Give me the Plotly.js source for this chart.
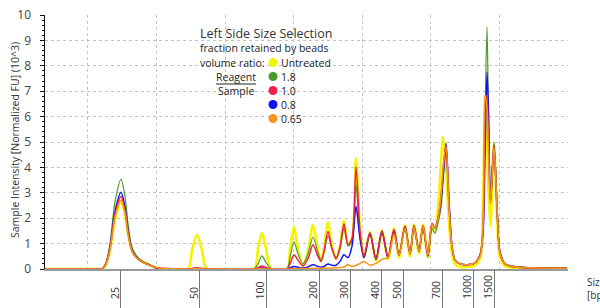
<!DOCTYPE html>
<html>
<head>
<meta charset="utf-8">
<script src="https://cdn.plot.ly/plotly-3.0.1.min.js"></script>
<style>html,body{margin:0;padding:0;background:#fff;}#chart{width:600px;height:308px;}</style>
</head>
<body>
<div id="chart"></div>
<script>
// Migration time (arbitrary run-time units) at which intensities were read
var runTime = [
  13.73, 21.02, 22.04, 22.62, 23.21, 23.94, 24.81, 25.40, 25.83, 26.42, 27.15, 28.02, 29.04, 30.06,
  34.58, 35.17, 35.90, 36.62, 37.35,
  44.21, 44.79, 45.37, 45.96, 46.69,
  49.02, 49.46, 50.04, 50.62, 51.35, 52.08, 52.81, 53.54, 53.98, 54.42, 55.00, 55.58, 56.17, 56.75, 57.33, 57.92, 58.50, 59.08, 59.67, 60.25,
  61.12, 62.00, 62.87, 63.75, 64.62, 65.35, 66.23, 66.96, 67.54, 68.27, 68.85, 69.58, 70.17, 70.60, 71.04, 71.48, 71.77, 72.21, 72.65, 73.08, 73.52, 74.25, 75.27, 76.29,
  77.17, 77.60, 77.90, 78.19, 78.41, 78.70, 79.21, 79.65, 80.08, 80.81, 81.83, 84.46, 89.85
];

// Sample intensity (10^3 normalized FU)
var untreated = [
  0, 0, 0, 0.18, 0.74, 1.96, 2.62, 2.15, 1.40, 0.72, 0.45, 0.28, 0.15, 0.03,
  0, 0.75, 1.35, 0.75, 0,
  0, 0.80, 1.42, 0.80, 0,
  0, 0.80, 1.65, 0.80, 0.12, 0.70, 1.74, 0.75, 0.30, 0.80, 1.85, 0.90, 0.40, 0.90, 1.92, 1.00, 1.20, 4.36, 1.60, 0.45,
  1.45, 0.32, 1.52, 0.38, 1.60, 0.45, 1.72, 0.50, 1.75, 0.60, 1.75, 0.45, 1.70, 1.50, 2.40, 4.20, 5.20, 4.00, 1.80, 0.60, 0.20, 0.08, 0.08, 0.12,
  0.40, 2.50, 6.80, 5.00, 3.00, 1.67, 4.95, 2.00, 0.45, 0.12, 0.05, 0.03, 0.02
];
var ratio18 = [
  0, 0, 0, 0.25, 1.00, 2.65, 3.53, 2.85, 1.80, 0.85, 0.50, 0.30, 0.17, 0.04,
  0, 0, 0.02, 0, 0,
  0, 0.20, 0.52, 0.25, 0.02,
  0, 0.45, 1.08, 0.60, 0.20, 0.60, 1.25, 0.65, 0.35, 0.65, 1.30, 0.80, 0.45, 0.80, 1.60, 0.90, 1.10, 3.31, 1.30, 0.50,
  1.35, 0.40, 1.42, 0.45, 1.50, 0.55, 1.60, 0.60, 1.62, 0.70, 1.60, 0.55, 1.60, 1.40, 1.80, 2.40, 3.40, 4.60, 2.60, 0.90, 0.35, 0.20, 0.17, 0.22,
  0.55, 1.60, 6.00, 9.52, 6.00, 3.00, 5.00, 2.60, 0.70, 0.22, 0.12, 0.06, 0.05
];
var ratio10 = [
  0, 0, 0, 0.20, 0.80, 2.15, 2.85, 2.30, 1.45, 0.70, 0.42, 0.26, 0.15, 0.05,
  0, 0.02, 0.05, 0.02, 0,
  0, 0.05, 0.12, 0.06, 0,
  0, 0.20, 0.56, 0.35, 0.12, 0.40, 0.95, 0.50, 0.30, 0.70, 1.48, 0.80, 0.40, 0.85, 1.78, 0.95, 1.20, 4.03, 1.50, 0.50,
  1.42, 0.38, 1.48, 0.45, 1.55, 0.55, 1.68, 0.60, 1.70, 0.70, 1.70, 0.55, 1.80, 1.60, 2.00, 2.80, 3.80, 4.85, 2.50, 0.90, 0.35, 0.20, 0.17, 0.22,
  0.55, 1.50, 5.80, 6.85, 5.00, 2.70, 4.85, 2.40, 0.65, 0.20, 0.10, 0.05, 0.03
];
var ratio08 = [
  0, 0, 0, 0.22, 0.86, 2.27, 3.02, 2.44, 1.54, 0.73, 0.43, 0.26, 0.15, 0.03,
  0, 0.01, 0.03, 0.01, 0,
  0, 0.02, 0.05, 0.02, 0,
  0, 0.04, 0.10, 0.07, 0.04, 0.08, 0.17, 0.10, 0.07, 0.10, 0.20, 0.15, 0.15, 0.30, 0.56, 0.45, 0.90, 2.46, 1.20, 0.45,
  1.42, 0.38, 1.50, 0.45, 1.55, 0.55, 1.68, 0.60, 1.70, 0.70, 1.70, 0.50, 1.75, 1.60, 2.00, 2.70, 3.60, 4.95, 2.70, 0.90, 0.35, 0.20, 0.17, 0.22,
  0.55, 1.40, 4.50, 7.75, 6.20, 2.60, 4.85, 2.40, 0.65, 0.20, 0.10, 0.05, 0.03
];
var ratio065 = [
  0, 0, 0, 0.19, 0.77, 2.04, 2.72, 2.20, 1.40, 0.70, 0.42, 0.26, 0.15, 0.05,
  0, 0, 0.02, 0, 0,
  0, 0, 0.02, 0, 0,
  0, 0, 0.02, 0.02, 0.02, 0.02, 0.03, 0.03, 0.03, 0.03, 0.04, 0.04, 0.05, 0.06, 0.08, 0.17, 0.10, 0.14, 0.22, 0.30,
  0.15, 0.22, 0.38, 0.45, 1.35, 0.55, 1.60, 0.60, 1.65, 0.70, 1.70, 0.55, 1.75, 1.60, 2.00, 2.90, 4.00, 4.80, 2.40, 0.90, 0.35, 0.20, 0.17, 0.22,
  0.50, 1.80, 6.85, 6.30, 4.50, 2.60, 4.80, 2.40, 0.60, 0.20, 0.10, 0.05, 0.03
];

var seriesNames = ['Untreated', '1.8', '1.0', '0.8', '0.65'];
var seriesColors = ['#f4f400', '#4a9a2c', '#f0204a', '#1010f0', '#f7941d'];
var seriesData = [untreated, ratio18, ratio10, ratio08, ratio065];
var drawOrder = [0, 1, 3, 2, 4];

// Size ladder (bp) and the run time of each ladder band
var ladderLabels = ['25', '50', '100', '200', '300', '400', '500', '700', '1000', '1500'];
var ladderTime = [24.81, 36.33, 46.03, 53.69, 58.21, 62.73, 65.94, 71.63, 76.15, 79.21];

var yTicks = [0, 1, 2, 3, 4, 5, 6, 7, 8, 9, 10];

var FONT = 'Open Sans, Liberation Sans, sans-serif';

var traces = [];
drawOrder.forEach(function (i) {
  traces.push({
    x: runTime, y: seriesData[i], name: seriesNames[i], type: 'scatter', mode: 'lines',
    line: {color: seriesColors[i], width: i === 0 ? 2.6 : (i === 1 ? 1.2 : 1.5), shape: 'spline', smoothing: 0.8},
    hoverinfo: 'skip', showlegend: false
  });
});
// invisible carrier trace for the ladder axis
traces.push({x: ladderTime, y: ladderTime.map(function () { return 0; }), xaxis: 'x2', type: 'scatter',
  mode: 'markers', marker: {opacity: 0}, hoverinfo: 'skip', showlegend: false});

var W = 523, H = 254, L = 45, T = 15;
function px(x) { return (x - L) / W; }
function py(y) { return (T + H - y) / H; }

var annotations = [];
ladderLabels.forEach(function (lab, i) {
  annotations.push({x: ladderTime[i], xref: 'x', y: py(301), yref: 'paper', text: lab, showarrow: false,
    textangle: -90, xanchor: 'center', yanchor: 'bottom', xshift: -6,
    font: {family: FONT, size: 10.5, color: '#333'}});
});
annotations.push({x: px(585), y: py(288), xref: 'paper', yref: 'paper', text: 'Size<br>[bp]', showarrow: false,
  xanchor: 'left', yanchor: 'middle', align: 'left', font: {family: FONT, size: 10, color: '#333'}});

// y axis title
annotations.push({x: px(15), y: py(140), xref: 'paper', yref: 'paper', text: 'Sample Intensity [Normalized FU] (10^3)',
  showarrow: false, textangle: -90, xanchor: 'center', yanchor: 'middle', font: {family: FONT, size: 10.5, color: '#333'}});

// legend block
annotations.push({x: px(198), y: py(33), xref: 'paper', yref: 'paper', text: 'Left Side Size Selection',
  showarrow: false, xanchor: 'left', yanchor: 'middle', font: {family: FONT, size: 12.5, color: '#333'}});
annotations.push({x: px(198), y: py(48), xref: 'paper', yref: 'paper', text: 'fraction retained by beads',
  showarrow: false, xanchor: 'left', yanchor: 'middle', font: {family: FONT, size: 10.5, color: '#222'}});
annotations.push({x: px(198), y: py(62.5), xref: 'paper', yref: 'paper', text: 'volume ratio:',
  showarrow: false, xanchor: 'left', yanchor: 'middle', font: {family: FONT, size: 10.5, color: '#222'}});
annotations.push({x: px(236), y: py(76.5), xref: 'paper', yref: 'paper', text: 'Reagent',
  showarrow: false, xanchor: 'center', yanchor: 'middle', font: {family: FONT, size: 10.5, color: '#222'}});
annotations.push({x: px(236), y: py(91), xref: 'paper', yref: 'paper', text: 'Sample',
  showarrow: false, xanchor: 'center', yanchor: 'middle', font: {family: FONT, size: 10.5, color: '#222'}});

var shapes = [
  {type: 'line', xref: 'paper', yref: 'paper', x0: px(216), x1: px(256), y0: py(84), y1: py(84), line: {color: '#222', width: 1}}
];
var legendY = [62.5, 76.5, 90.5, 104.5, 118.5];
var R = 4.5;
seriesNames.forEach(function (n, i) {
  shapes.push({type: 'circle', xref: 'paper', yref: 'paper', x0: px(273 - R), x1: px(273 + R),
    y0: py(legendY[i] + R), y1: py(legendY[i] - R), fillcolor: seriesColors[i], line: {width: 0}});
  annotations.push({x: px(279), y: py(legendY[i]), xref: 'paper', yref: 'paper', text: n,
    showarrow: false, xanchor: 'left', yanchor: 'middle', font: {family: FONT, size: 10.5, color: '#222'}});
});

var layout = {
  width: 600, height: 308,
  margin: {l: L, r: 600 - L - W, t: T, b: 308 - T - H, pad: 0},
  paper_bgcolor: '#fff', plot_bgcolor: '#fff',
  font: {family: FONT, color: '#333'},
  showlegend: false,
  xaxis: {
    range: [13.73, 90.0], tickmode: 'linear', tick0: 20, dtick: 10,
    showgrid: true, gridcolor: '#c4c4c4', griddash: 'dot', gridwidth: 1,
    showticklabels: false, ticks: '', zeroline: false,
    showline: true, linecolor: '#9a9a9a', linewidth: 2, fixedrange: true
  },
  xaxis2: {
    overlaying: 'x', anchor: 'y', side: 'bottom', range: [13.73, 90.0],
    tickmode: 'array', tickvals: ladderTime, ticktext: ladderLabels, showticklabels: false,
    ticks: 'outside', ticklen: 38, tickcolor: '#777', tickwidth: 1,
    showgrid: false, zeroline: false, showline: false
  },
  yaxis: {
    range: [0, 10], tickmode: 'array', tickvals: yTicks,
    showgrid: true, gridcolor: '#c4c4c4', griddash: 'dot', gridwidth: 1,
    zeroline: false, showline: true, linecolor: '#111', linewidth: 1.5,
    ticks: 'outside', ticklen: 4, tickcolor: '#111', tickwidth: 1,
    ticklabelstandoff: 6,
    minor: {ticks: 'outside', ticklen: 2, dtick: 0.2, tickcolor: '#111', showgrid: false},
    tickfont: {family: FONT, size: 12, color: '#444'}
  },
  shapes: shapes,
  annotations: annotations
};

Plotly.newPlot('chart', traces, layout, {staticPlot: true, displayModeBar: false});
</script>
</body>
</html>
